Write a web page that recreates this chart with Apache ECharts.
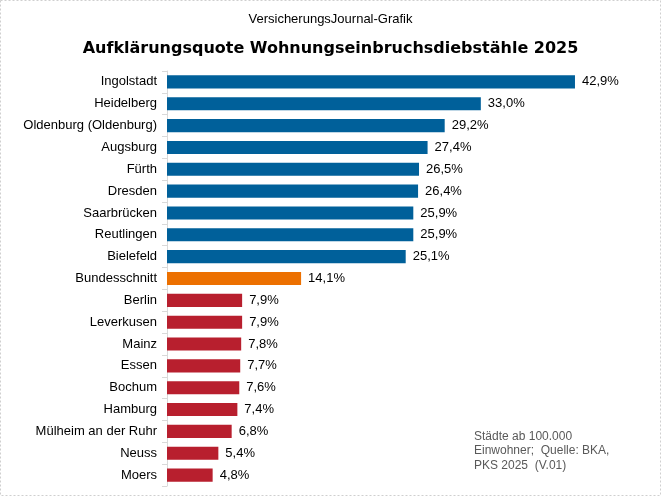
<!DOCTYPE html>
<html>
<head>
<meta charset="utf-8">
<script src="https://cdn.jsdelivr.net/npm/echarts@6/dist/echarts.min.js"></script>
<style>
  html, body { margin: 0; padding: 0; background: #fff; }
  #main { width: 661px; height: 496px; }
</style>
</head>
<body>
<div id="main"></div>
<script>
var cities = ['Ingolstadt', 'Heidelberg', 'Oldenburg (Oldenburg)', 'Augsburg', 'Fürth', 'Dresden',
    'Saarbrücken', 'Reutlingen', 'Bielefeld', 'Bundesschnitt', 'Berlin', 'Leverkusen', 'Mainz',
    'Essen', 'Bochum', 'Hamburg', 'Mülheim an der Ruhr', 'Neuss', 'Moers']
var quote = [42.9, 33.0, 29.2, 27.4, 26.5, 26.4, 25.9, 25.9, 25.1, 14.1, 7.9, 7.9, 7.8, 7.7, 7.6, 7.4, 6.8, 5.4, 4.8]
var groups = ['top', 'top', 'top', 'top', 'top', 'top', 'top', 'top', 'top', 'avg',
    'low', 'low', 'low', 'low', 'low', 'low', 'low', 'low', 'low']
var colors = { top: '#00609a', avg: '#ec7000', low: '#b81f2e' }

var font = '"Liberation Sans", Arial, sans-serif'
var myChart = echarts.init(document.getElementById('main'))

let data = quote.map(function (v, i) {
    return { value: v, itemStyle: { color: colors[groups[i]] } }
})

myChart.setOption({
    animation: false,
    title: [{
        text: 'VersicherungsJournal-Grafik',
        left: 'center',
        top: 8,
        textStyle: { fontFamily: font, fontSize: 13, fontWeight: 'normal', color: '#000' }
    }, {
        text: 'Aufklärungsquote Wohnungseinbruchsdiebstähle 2025',
        left: 'center',
        top: 36,
        textStyle: { fontFamily: '"DejaVu Sans", sans-serif', fontSize: 16, fontWeight: 'bold', color: '#000' }
    }],
    grid: {
        left: 167,
        right: 18.5,
        top: 71,
        bottom: 10
    },
    xAxis: {
        type: 'value',
        min: 0,
        max: 50,
        show: false
    },
    yAxis: {
        type: 'category',
        inverse: true,
        data: cities,
        axisLine: { lineStyle: { color: '#d9d9d9' } },
        axisTick: { show: true, length: 5, lineStyle: { color: '#d9d9d9' } },
        axisLabel: { fontFamily: font, fontSize: 13, color: '#000', margin: 10 }
    },
    series: [{
        type: 'bar',
        data: data,
        barCategoryGap: '40%',
        label: {
            show: true,
            position: 'right',
            distance: 7,
            fontFamily: font,
            fontSize: 13,
            color: '#000',
            formatter: function (p) {
                return p.value.toFixed(1).replace('.', ',') + '%'
            }
        }
    }],
    graphic: [{
        type: 'text',
        left: 474,
        top: 429,
        style: {
            text: 'Städte ab 100.000\nEinwohner;  Quelle: BKA,\nPKS 2025  (V.01)',
            font: '12px ' + font,
            fill: '#595959',
            lineHeight: 14.5
        }
    }, {
        type: 'rect',
        shape: { x: 0.5, y: 0.5, width: 660, height: 495 },
        style: { fill: null, stroke: '#cfcfcf', lineWidth: 1, lineDash: [2, 2] },
        silent: true
    }]
})
</script>
</body>
</html>
